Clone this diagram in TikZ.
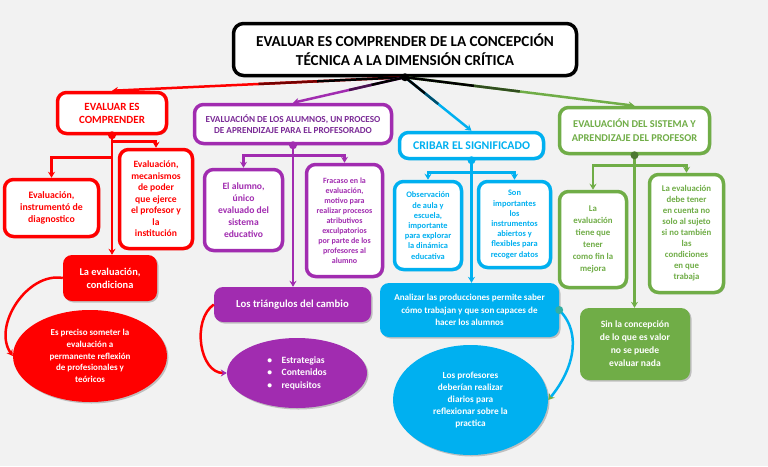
\documentclass[tikz,border=0pt]{standalone}
\usepackage{fontspec}
\setmainfont{Carlito}
\usepackage{xcolor}
\definecolor{cRed}{HTML}{FF0000}
\definecolor{cPurple}{HTML}{A12CB0}
\definecolor{cPurpleTxt}{HTML}{7A2A96}
\definecolor{cCyan}{HTML}{00B0F0}
\definecolor{cGreen}{HTML}{70AD47}
\definecolor{cBack}{HTML}{F2F2F2}
\usepackage{tikz}
\usetikzlibrary{arrows.meta,shapes.geometric,shadows,calc}
\tikzset{
  box-shadow/.style={drop shadow={shadow xshift=1.5pt,shadow yshift=-1.5pt,
    opacity=.3,fill=black!70}},
  txt-size/.style 2 args={font=\fontsize{#1}{#2}\selectfont\bfseries},
  node-root/.style={draw=black,line width=3.5pt,rounded corners=10pt,
    fill=white,align=center,inner sep=1pt,box-shadow},
  node-line/.style={draw=#1,line width=3.5pt,rounded corners=9pt,fill=white,
    text=#1,align=center,inner sep=1pt,box-shadow},
  node-fill/.style={fill=#1,rounded corners=9pt,text=white,align=center,
    inner sep=1pt,box-shadow},
  node-oval/.style={ellipse,fill=#1,text=white,align=center,inner sep=0pt,
    box-shadow},
  node-dot/.style={circle,fill=#1,inner sep=0pt,minimum size=8pt},
  arrow/.style={-{Stealth[length=6pt,width=7pt]},line width=2.5pt,draw=#1},
}

\begin{document}
\begin{tikzpicture}[x=1pt,y=-1pt]
  \fill[cBack] (0,0) rectangle (768,466);
  \useasboundingbox (0,0) rectangle (768,466);

  % raiz
  \node[node-root,minimum width=343pt,minimum height=52pt,txt-size={15.2}{19}]
    (root) at (405,49.5) {EVALUAR ES COMPRENDER DE LA CONCEPCIÓN\\TÉCNICA A LA DIMENSIÓN CRÍTICA};

  % rama roja
  \node[node-line=cRed,minimum width=109pt,minimum height=41pt,txt-size={11}{13}]
    (rhead) at (112,113) {EVALUAR ES\\COMPRENDER};
  \node[node-line=cRed,minimum width=94pt,minimum height=57pt,txt-size={9.8}{12}]
    (rdiag) at (51.5,208) {Evaluación,\\instrumentó de\\diagnostico};
  \node[node-line=cRed,minimum width=73pt,minimum height=99pt,txt-size={9.6}{11.5}]
    (rpoder) at (156,199) {Evaluación,\\mecanismos\\de poder\\que ejerce\\el profesor y\\la\\institución};
  \node[node-fill=cRed,minimum width=94pt,minimum height=46pt,txt-size={10.4}{13}]
    (rcond) at (110,278) {La evaluación,\\condiciona};
  \node[node-oval=cRed,minimum width=154pt,minimum height=92pt,txt-size={9}{11.7}]
    (rrefl) at (90,356) {Es preciso someter la\\evaluación a\\permanente reflexión\\de profesionales y\\teóricos};

  % rama morada
  \node[node-line=cPurple,text=cPurpleTxt,minimum width=197pt,minimum height=39pt,txt-size={9.2}{11}]
    (phead) at (293,124) {EVALUACIÓN DE LOS ALUMNOS, UN PROCESO\\DE APRENDIZAJE PARA EL PROFESORADO};
  \node[node-line=cPurple,minimum width=78pt,minimum height=81pt,txt-size={9.6}{12}]
    (palumno) at (243.5,210) {El alumno,\\único\\evaluado del\\sistema\\educativo};
  \node[node-line=cPurple,minimum width=76pt,minimum height=112pt,txt-size={8}{10}]
    (pfracaso) at (344.5,220.5) {Fracaso en la\\evaluación,\\motivo para\\realizar procesos\\atributivos\\exculpatorios\\por parte de los\\profesores al\\alumno};
  \node[node-fill=cPurple,minimum width=157pt,minimum height=35pt,txt-size={10.7}{13}]
    (ptriang) at (292.5,304.5) {Los triángulos del cambio};
  \node[node-oval=cPurple,minimum width=140pt,minimum height=70pt,txt-size={9.6}{12.5},align=left]
    (plista) at (297,373) {\textbullet\quad Estrategias\\\textbullet\quad Contenidos\\\textbullet\quad requisitos};

  % rama celeste
  \node[node-line=cCyan,minimum width=144pt,minimum height=26pt,txt-size={11.8}{12}]
    (chead) at (471.5,145.5) {CRIBAR EL SIGNIFICADO};
  \node[node-line=cCyan,minimum width=67pt,minimum height=88pt,txt-size={8.4}{10.2}]
    (cobs) at (428,225.5) {Observación\\de aula y\\escuela,\\importante\\para explorar\\la dinámica\\educativa};
  \node[node-line=cCyan,minimum width=72pt,minimum height=86pt,txt-size={8.4}{10.2}]
    (cinstr) at (514.5,224.5) {Son\\importantes\\los\\instrumentos\\abiertos y\\flexibles para\\recoger datos};
  \node[node-fill=cCyan,minimum width=179pt,minimum height=54pt,txt-size={9.1}{12.7}]
    (canaliz) at (469.5,310) {Analizar las producciones permite saber\\cómo trabajan y que son capaces de\\hacer los alumnos};
  \node[node-oval=cCyan,minimum width=155pt,minimum height=110pt,txt-size={9.3}{12}]
    (cdiario) at (470.5,400) {Los profesores\\deberían realizar\\diarios para\\reflexionar sobre la\\practica};

  % rama verde
  \node[node-line=cGreen,minimum width=150pt,minimum height=46pt,txt-size={10.4}{14}]
    (ghead) at (634.5,130.5) {EVALUACIÓN DEL SISTEMA Y\\APRENDIZAJE DEL PROFESOR};
  \node[node-line=cGreen,minimum width=67pt,minimum height=96pt,txt-size={8.8}{12}]
    (gmejora) at (593,239.5) {La\\evaluación\\tiene que\\tener\\como fin la\\mejora};
  \node[node-line=cGreen,minimum width=74pt,minimum height=118pt,txt-size={8.8}{11}]
    (gcond) at (686.5,233.5) {La evaluación\\debe tener\\en cuenta no\\solo al sujeto\\si no también\\las\\condiciones\\en que\\trabaja};
  \node[node-fill=cGreen,minimum width=110pt,minimum height=72pt,txt-size={9.6}{13}]
    (gvalor) at (635,344) {Sin la concepción\\de lo que es valor\\no se puede\\evaluar nada};

  % conectores desde la raiz
  \foreach \n/\c in {rhead/cRed,phead/cPurple,chead/cCyan,ghead/cGreen}{
    \draw[arrow=\c] (root.south) -- (\n.north);
    \draw[line width=2.5pt,\c!45!black] ($(root.south)!0.3!(\n.north)$) -- ($(root.south)!0.5!(\n.north)$);
    \draw[line width=2.5pt,black] (root.south) -- ($(root.south)!0.3!(\n.north)$);
  }
  \node[node-dot=black] (rootdot) at (root.south) {};

  % arboles
  \draw[arrow=cRed] (rhead.south) -- (rhead.south |- rcond.north);
  \draw[arrow=cRed] (rhead.south) -- ++(0,22) -| (rdiag.north);
  \draw[arrow=cRed] (rhead.south) -- ++(0,6) -| (rpoder.north);
  \node[node-dot=cRed] (rdot) at (rhead.south) {};

  \draw[arrow=cPurple] (phead.south) -- (phead.south |- ptriang.north);
  \draw[arrow=cPurple] (phead.south) -- ++(0,10) -| (palumno.north);
  \draw[arrow=cPurple] (phead.south) -- ++(0,10) -| (pfracaso.north);
  \node[node-dot=cPurple] (pdot) at (phead.south) {};

  \draw[arrow=cCyan] (chead.south) -- (chead.south |- canaliz.north);
  \draw[arrow=cCyan] (chead.south) -- ++(0,12) -| (cobs.north);
  \draw[arrow=cCyan] (chead.south) -- ++(0,12) -| (cinstr.north);
  \node[node-dot=cCyan] (cdot) at (chead.south) {};

  \draw[arrow=cGreen] (ghead.south) -- (ghead.south |- gvalor.north);
  \draw[arrow=cGreen] (ghead.south) -- ++(0,10) -| (gmejora.north);
  \draw[arrow=cGreen] (ghead.south) -- ++(0,10) -| (gcond.north);
  \node[node-dot=cGreen!70!black] (gdot) at (ghead.south) {};

  % curvas
  \draw[arrow=cRed] (rcond.west) to[out=170,in=125] (rrefl.west);
  \draw[line width=2.5pt,draw=cRed,-{Stealth[length=6pt,width=7pt,color=cPurple]}]
    (ptriang.west) to[out=215,in=180] (plista.west);
  \draw[line width=2.5pt,draw=cCyan,-{Stealth[length=6pt,width=7pt,color=cGreen]}]
    (canaliz.east) to[out=-45,in=50] (cdiario.east);
  \node[node-dot=cCyan!55!cGreen] (cadot) at (canaliz.east) {};
\end{tikzpicture}
\end{document}
